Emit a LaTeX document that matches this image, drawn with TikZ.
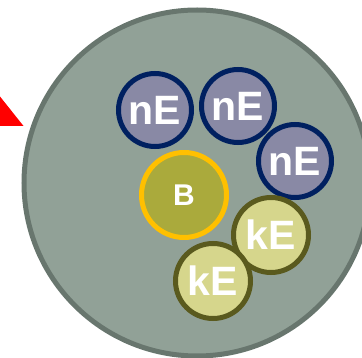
\documentclass[tikz,border=0pt]{standalone}
\usepackage{fontspec}
\newfontfamily\ballfont{Liberation Sans}
\definecolor{cellfill}{RGB}{145,161,151}
\definecolor{celledge}{RGB}{104,118,110}
\definecolor{nfill}{RGB}{137,137,165}
\definecolor{nedge}{RGB}{0,32,96}
\definecolor{bfill}{RGB}{170,170,60}
\definecolor{bedge}{RGB}{255,192,0}
\definecolor{kfill}{RGB}{214,214,140}
\definecolor{kedge}{RGB}{90,90,30}

\begin{document}
\begin{tikzpicture}[x=1pt,y=-1pt,
    ball/.style={circle,inner sep=0pt,line width=5pt,text=white,
      font=\ballfont\bfseries\fontsize{41}{41}\selectfont},
    nball/.style={ball,draw=nedge,fill=nfill,minimum size=73pt},
    bball/.style={ball,draw=bedge,fill=bfill,minimum size=85pt,
      font=\ballfont\bfseries\fontsize{30}{30}\selectfont},
    kball/.style={ball,draw=kedge,fill=kfill,minimum size=75pt}]
      \clip(0,0)rectangle(362,358);
      \fill[red](0,96.5)--(23.5,126)--(0,126)--cycle;
      \draw[line width=5pt,draw=celledge,fill=cellfill](197,183)circle(173);
      \foreach \n/\x/\y in{nA/155/110,nB/238/106,nC/295/161}{
        \node[nball](\n)at(\x,\y){nE};
      }
      \node[bball](b)at(184,195){B};
      \foreach \n/\x/\y in{kA/271/235,kB/213/281}{
        \node[kball](\n)at(\x,\y){kE};
      }
    \end{tikzpicture}
\end{document}
